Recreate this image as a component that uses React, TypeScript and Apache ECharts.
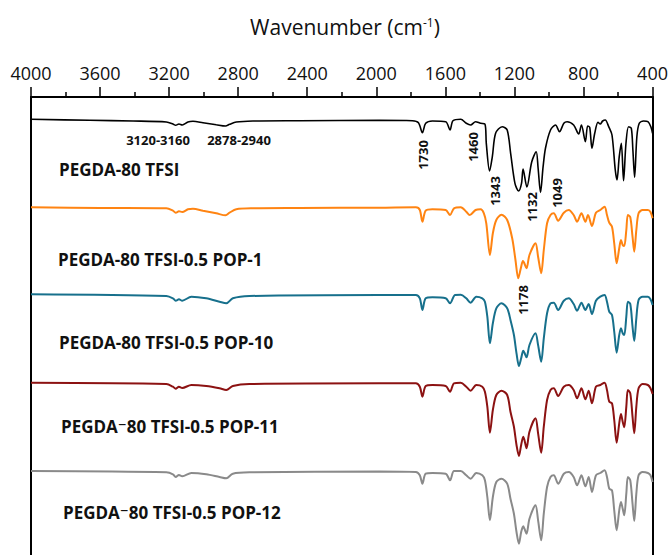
import React, { useEffect, useRef } from "react";
import * as echarts from "echarts";

// Wavenumber (cm-1) vs relative transmittance (a.u.)
const pegda80Tfsi: number[][] = [
  [4000, 100.7], [3659, 99.7], [3409, 99], [3216, 98], [3178, 96], [3162, 94.7], [3143, 96], [3124, 95],
  [3091, 98], [3062, 98.7], [3004, 97.3], [2927, 95.3], [2873, 94], [2850, 95.7], [2811, 98], [2715, 99],
  [2446, 99.3], [1983, 99.7], [1791, 99.3], [1756, 97.3], [1733, 87.3], [1714, 96.7], [1675, 99], [1598, 98.3],
  [1573, 90], [1556, 99.3], [1511, 100.7], [1479, 96.7], [1454, 95], [1425, 98.3], [1396, 96.7], [1371, 96],
  [1363, 76.7], [1344, 49], [1328, 63.3], [1309, 86.7], [1271, 93.3], [1242, 90], [1222, 66.7], [1197, 36.7],
  [1176, 29], [1159, 36.7], [1150, 51], [1128, 33], [1100, 58], [1074, 68.3], [1063, 52], [1049, 27.5],
  [1034, 53.3], [1020, 72], [991, 90], [962, 95], [939, 88.3], [914, 96.7], [895, 98.3], [857, 95],
  [828, 86], [812, 95], [789, 78.3], [776, 94], [764, 92.7], [751, 71.7], [735, 86.7], [716, 97.7],
  [703, 96], [689, 99], [674, 100], [654, 93.3], [635, 85], [616, 50], [606, 40], [593, 63.3],
  [581, 76.7], [568, 39.3], [554, 76.7], [539, 93.3], [523, 91.7], [514, 70], [504, 42.7], [491, 83.3],
  [477, 96.7], [452, 99], [427, 98.3], [410, 93.3], [400, 86.7],
];

const pop1: number[][] = [
  [4000, 100.7], [3600, 100], [3216, 99.7], [3178, 97.3], [3162, 95.3], [3143, 96.7], [3124, 96], [3091, 98.7],
  [3062, 99.3], [3004, 97.3], [2927, 94.7], [2873, 92.7], [2850, 95.3], [2811, 98.7], [2715, 99.7], [2446, 100],
  [1983, 100.3], [1771, 100.7], [1748, 98], [1733, 86.3], [1714, 97.3], [1675, 98.7], [1598, 98], [1573, 93],
  [1550, 99.7], [1511, 100.7], [1479, 96.3], [1459, 93], [1425, 98], [1396, 98.7], [1377, 94.7], [1363, 84.7],
  [1342, 53], [1325, 74.7], [1305, 88], [1275, 93.3], [1242, 88], [1213, 69.7], [1194, 48], [1178, 29.7],
  [1163, 39.7], [1151, 47], [1144, 45.3], [1130, 39.7], [1113, 53], [1078, 64.7], [1063, 51.3], [1045, 34.7],
  [1030, 58], [1011, 84.7], [991, 93], [972, 94.7], [947, 87.3], [914, 95.3], [885, 98], [857, 93],
  [837, 86.3], [812, 94.7], [789, 86.3], [774, 93], [751, 82], [728, 95.3], [703, 98], [678, 101.3],
  [664, 93], [651, 85.3], [635, 81.3], [622, 64.7], [608, 44.7], [593, 59.7], [583, 68], [573, 63],
  [564, 62], [552, 78], [543, 93], [529, 90.7], [516, 71.3], [506, 56.3], [494, 78], [481, 94.7],
  [458, 98], [427, 98], [412, 96], [400, 89.7],
];

const pop10: number[][] = [
  [4000, 100.7], [3216, 99], [3178, 96.7], [3162, 94.3], [3143, 95.7], [3124, 94.3], [3071, 98.3], [2985, 96.7],
  [2908, 93.3], [2869, 91.7], [2831, 96.7], [2735, 99], [1983, 100], [1771, 100], [1748, 96.7], [1733, 85],
  [1714, 96.7], [1675, 97.7], [1598, 96.7], [1573, 91.7], [1544, 100], [1511, 100.3], [1479, 96.7], [1454, 92.3],
  [1421, 98.3], [1386, 96.7], [1371, 93.3], [1357, 78.3], [1342, 51.7], [1325, 71.7], [1305, 86.7], [1275, 91.7],
  [1242, 86.7], [1223, 75], [1203, 60], [1188, 41.7], [1174, 29], [1161, 36.7], [1149, 44.3], [1142, 42.3],
  [1130, 37.7], [1113, 50], [1078, 61.7], [1063, 50], [1045, 33.3], [1030, 56.7], [1011, 81.7], [991, 91.7],
  [972, 92.3], [947, 85], [914, 94.3], [885, 96.7], [857, 91], [837, 84.3], [812, 92.3], [789, 85],
  [770, 91], [751, 81], [728, 94.3], [703, 98.3], [678, 100], [664, 93.3], [651, 83.3], [635, 80],
  [622, 63.3], [608, 42.3], [593, 60], [583, 66.7], [573, 61.7], [564, 60], [552, 78.3], [543, 93.3],
  [529, 91], [516, 68.3], [506, 54], [494, 76.7], [481, 95], [458, 98.3], [427, 98.3], [412, 95.7], [400, 90],
];

const pop11: number[][] = [
  [4000, 100.3], [3216, 99], [3178, 96.3], [3162, 94.3], [3143, 96.3], [3124, 95], [3071, 98], [2985, 97],
  [2908, 94.7], [2869, 93], [2831, 97], [2735, 99], [1983, 99.7], [1771, 99.7], [1748, 96.3], [1733, 86.3],
  [1714, 97], [1675, 98], [1598, 97], [1573, 91.3], [1550, 99.7], [1511, 100.3], [1479, 96.3], [1454, 92.3],
  [1421, 98], [1386, 96.3], [1371, 91.3], [1357, 76.3], [1342, 50.3], [1325, 73], [1305, 88], [1275, 92.3],
  [1242, 88], [1223, 71.3], [1203, 56.3], [1188, 38], [1174, 27], [1161, 38], [1149, 46.3], [1142, 43],
  [1130, 34.7], [1113, 51.3], [1078, 64.7], [1063, 49.7], [1045, 30.3], [1030, 56.3], [1011, 83], [991, 93],
  [972, 94.7], [947, 87], [914, 96.3], [885, 98], [857, 93], [837, 84.7], [812, 94.7], [789, 83.7],
  [770, 92.3], [751, 79.7], [728, 96.3], [703, 98], [678, 100.3], [664, 93], [651, 81.3], [635, 79.7],
  [622, 63], [608, 40.3], [593, 59.7], [583, 69], [573, 61.3], [564, 55.7], [552, 76.3], [543, 93],
  [529, 89.7], [516, 66.3], [506, 49.7], [494, 76.3], [481, 94.7], [458, 99], [427, 98], [412, 94.7], [400, 89],
];

const pop12: number[][] = [
  [4000, 101], [3216, 99.7], [3178, 97.7], [3162, 95], [3143, 97], [3124, 95.7], [3071, 99], [2985, 97.7],
  [2908, 95], [2869, 93.7], [2831, 98.3], [2735, 99.7], [1983, 100.5], [1771, 100], [1748, 96.7], [1733, 88.3],
  [1714, 98.3], [1675, 99], [1598, 98.3], [1573, 91.7], [1550, 101], [1511, 101], [1479, 96.7], [1454, 93.3],
  [1421, 99], [1386, 96.7], [1371, 91.7], [1357, 75], [1342, 51.7], [1325, 75], [1305, 90], [1275, 93.3],
  [1242, 88.3], [1223, 73.3], [1203, 58.3], [1188, 40], [1174, 28.3], [1161, 40], [1149, 45.7], [1142, 43.3],
  [1130, 38.3], [1113, 53.3], [1078, 66.7], [1063, 51.7], [1045, 31.7], [1030, 58.3], [1011, 85], [991, 95],
  [972, 96.7], [947, 88.3], [914, 98.3], [885, 100], [857, 95], [837, 86.7], [812, 96.7], [789, 85.7],
  [770, 95], [751, 80], [728, 96.7], [703, 99], [678, 101.7], [664, 95], [651, 83.3], [635, 81.7],
  [622, 61.7], [608, 41.7], [593, 61.7], [583, 70], [573, 63.3], [564, 56.7], [552, 78.3], [543, 95],
  [529, 91.7], [516, 68.3], [506, 51], [494, 78.3], [481, 96.7], [458, 100], [427, 99], [412, 96.7], [400, 90],
];

const seriesNames = [
  "PEGDA-80 TFSI",
  "PEGDA-80 TFSI-0.5 POP-1",
  "PEGDA-80 TFSI-0.5 POP-10",
  "PEGDA\u207B80 TFSI-0.5 POP-11",
  "PEGDA\u207B80 TFSI-0.5 POP-12",
];
const spectra = [pegda80Tfsi, pop1, pop10, pop11, pop12];
// vertical stacking offsets of each spectrum (a.u.)
const stackOffsets = [0, -88, -175, -263, -352];

const rangeLabels = ["3120-3160", "2878-2940"];
const peakLabels = ["1730", "1460", "1343", "1132", "1049", "1178"];

const xTicks = { min: 400, max: 4000, step: 400 };

// styles & layout
const colors = ["#000000", "#FF8412", "#17708C", "#8C1212", "#8A8A8A"];
const lineWidths = [1.6, 2, 2, 2, 2];
const nameSpots = [
  [59, 169],
  [58, 259],
  [59, 342],
  [61, 426],
  [63, 512],
];
const rangeSpots = [
  [158, 140],
  [239, 140],
];
const peakSpots = [
  [422.5, 155],
  [472.5, 147],
  [494.5, 191],
  [531.7, 207],
  [557, 193],
  [522.5, 300],
];

const FONT = "'Open Sans', 'DejaVu Sans', sans-serif";

export default function App() {
  const ref = useRef<HTMLDivElement | null>(null);

  useEffect(() => {
    document.body.style.margin = "0";
    if (!ref.current) return;
    const chart = echarts.init(ref.current, null, { renderer: "svg" });

    const series = spectra.map((spec, i) => ({
      type: "line",
      name: seriesNames[i],
      data: spec.map(([wn, t]) => [wn, t + stackOffsets[i]]),
      showSymbol: false,
      smooth: 0.3,
      lineStyle: { color: colors[i], width: lineWidths[i] },
      itemStyle: { color: colors[i] },
      z: 5 - i,
    }));

    const graphic: any[] = [];
    graphic.push({
      type: "text",
      x: 345,
      y: 27,
      style: {
        text: "{a|Wavenumber (cm}{s|-1}{a|)}",
        align: "center",
        verticalAlign: "middle",
        rich: {
          a: { fontSize: 21, fontFamily: FONT, fill: "#111" },
          s: { fontSize: 12, fontFamily: FONT, fill: "#111", verticalAlign: "top" },
        },
      },
    });
    seriesNames.forEach((n, i) => {
      graphic.push({
        type: "text",
        x: nameSpots[i][0],
        y: nameSpots[i][1],
        style: {
          text: n,
          align: "left",
          verticalAlign: "middle",
          fontSize: 17,
          fontWeight: "bold",
          fontFamily: FONT,
          fill: "#111",
        },
      });
    });
    rangeLabels.forEach((t, i) => {
      graphic.push({
        type: "text",
        x: rangeSpots[i][0],
        y: rangeSpots[i][1],
        style: {
          text: t,
          align: "center",
          verticalAlign: "middle",
          fontSize: 13,
          fontWeight: "bold",
          fontFamily: FONT,
          fill: "#111",
        },
      });
    });
    peakLabels.forEach((t, i) => {
      graphic.push({
        type: "text",
        x: peakSpots[i][0],
        y: peakSpots[i][1],
        rotation: Math.PI / 2,
        style: {
          text: t,
          align: "center",
          verticalAlign: "middle",
          fontSize: 13,
          fontWeight: "bold",
          fontFamily: FONT,
          fill: "#111",
        },
      });
    });

    const yAxisBase = {
      type: "value",
      min: -335,
      max: 123,
      axisLine: { show: true, onZero: false, lineStyle: { color: "#000", width: 2 } },
      axisTick: { show: false },
      axisLabel: { show: false },
      splitLine: { show: false },
    };

    chart.setOption({
      animation: false,
      backgroundColor: "#fff",
      grid: { left: 31, right: 17, top: 97, bottom: 0, containLabel: false },
      xAxis: {
        type: "value",
        position: "top",
        inverse: true,
        min: xTicks.min,
        max: xTicks.max,
        interval: xTicks.step,
        axisLine: { show: true, onZero: false, lineStyle: { color: "#000", width: 2 } },
        axisTick: { show: true, inside: false, length: 10, lineStyle: { color: "#000", width: 1.5 } },
        minorTick: { show: true, splitNumber: 2, length: 5, lineStyle: { color: "#000", width: 1.5 } },
        splitLine: { show: false },
        minorSplitLine: { show: false },
        axisLabel: {
          color: "#111",
          fontFamily: FONT,
          fontSize: 18,
          margin: 15,
          showMinLabel: true,
          showMaxLabel: true,
          hideOverlap: false,
          formatter: (v: number) => String(v),
        },
      },
      yAxis: [
        { ...yAxisBase, position: "left" },
        { ...yAxisBase, position: "right" },
      ],
      series,
      graphic,
    });

    return () => chart.dispose();
  }, []);

  return <div ref={ref} style={{ width: 671, height: 555 }} />;
}
